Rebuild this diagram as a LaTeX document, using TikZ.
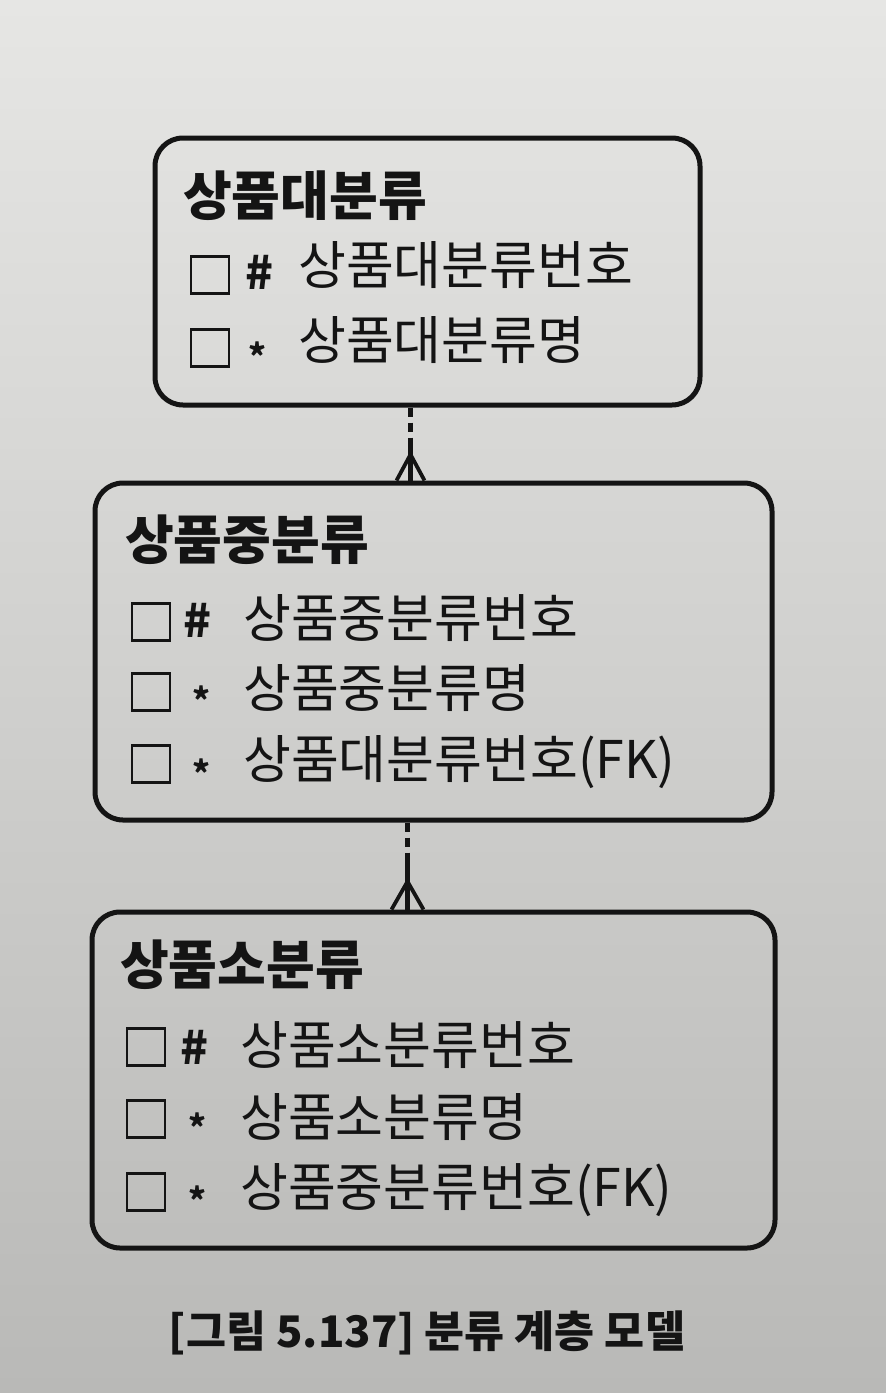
\documentclass[tikz,border=0pt]{standalone}
\usepackage{fontspec}
\setmainfont{Noto Sans CJK KR}
\usetikzlibrary{calc}
\definecolor{bgtop}{HTML}{E6E6E4}
\definecolor{bgbot}{HTML}{B9B9B7}
\definecolor{ink}{HTML}{141414}
\tikzset{
  entity/.style={draw=ink, line width=5pt, rounded corners=28pt, inner sep=0pt},
  ttl/.style={anchor=west, inner sep=0pt, text=ink, font=\fontsize{53}{60}\selectfont\bfseries},
  attr/.style={anchor=west, inner sep=0pt, text=ink, font=\fontsize{52}{60}\selectfont},
  chk/.style={draw=ink, line width=2.8pt, minimum width=38pt, minimum height=37pt, inner sep=0pt},
  hashmk/.style={inner sep=0pt, text=ink, font=\fontsize{46}{52}\selectfont\bfseries},
  starmk/.style={inner sep=0pt, text=ink, font=\fontsize{34}{40}\selectfont\bfseries},
  rel/.style={draw=ink, line width=5pt},
  reldash/.style={draw=ink, line width=5pt, dash pattern=on 9pt off 6pt},
  captext/.style={inner sep=0pt, text=ink, font=\fontsize{43.5}{50}\selectfont\bfseries}
}
\begin{document}
\begin{tikzpicture}[x=1pt,y=-1pt]
\shade[top color=bgtop, bottom color=bgbot] (0,0) rectangle (886,1393);
\useasboundingbox (0,0) rectangle (886,1393);

% entity 1
\node[entity, minimum width=545pt, minimum height=267pt] (e1) at (427.5,271.5) {};
\node[ttl] (t1) at (183,196) {상품대분류};
\node[chk] (s11) at (210,275) {};
\node[hashmk] (m11) at (260,272) {\#};
\node[attr] (a11) at (298,265) {상품대분류번호};
\node[chk] (s12) at (210,348) {};
\node[starmk] (m12) at (257,356) {*};
\node[attr] (a12) at (298,340) {상품대분류명};

% entity 2
\node[entity, minimum width=677pt, minimum height=337pt] (e2) at (433.5,651.5) {};
\node[ttl] (t2) at (125,540) {상품중분류};
\node[chk] (s21) at (151,622) {};
\node[hashmk] (m21) at (198,620) {\#};
\node[attr] (a21) at (243,618) {상품중분류번호};
\node[chk] (s22) at (151,692) {};
\node[starmk] (m22) at (201,700) {*};
\node[attr] (a22) at (243,688) {상품중분류명};
\node[chk] (s23) at (151,764) {};
\node[starmk] (m23) at (201,773) {*};
\node[attr] (a23) at (243,762) {상품대분류번호(FK)};

% entity 3
\node[entity, minimum width=683pt, minimum height=336pt] (e3) at (433.5,1080) {};
\node[ttl] (t3) at (120,965) {상품소분류};
\node[chk] (s31) at (146,1047) {};
\node[hashmk] (m31) at (195,1047) {\#};
\node[attr] (a31) at (240,1045) {상품소분류번호};
\node[chk] (s32) at (146,1119) {};
\node[starmk] (m32) at (197,1127) {*};
\node[attr] (a32) at (240,1117) {상품소분류명};
\node[chk] (s33) at (146,1192) {};
\node[starmk] (m33) at (197,1200) {*};
\node[attr] (a33) at (240,1190) {상품중분류번호(FK)};

% relationship 1
\coordinate (r1a) at ($(e1.south west)+(258,0)$);
\coordinate (r1b) at ($(r1a)+(0,31)$);
\coordinate (r1end) at (r1a |- e2.north);
\coordinate (r1apex) at ($(r1end)+(0,-26)$);
\draw[reldash] (r1a) -- (r1b);
\draw[rel] (r1b) -- (r1end);
\draw[rel, line width=3.8pt] ($(r1end)+(-14,0)$) -- (r1apex) -- ($(r1end)+(14,0)$);

% relationship 2
\coordinate (r2a) at ($(e2.south west)+(315,0)$);
\coordinate (r2b) at ($(r2a)+(0,33)$);
\coordinate (r2end) at (r2a |- e3.north);
\coordinate (r2apex) at ($(r2end)+(0,-28)$);
\draw[reldash] (r2a) -- (r2b);
\draw[rel] (r2b) -- (r2end);
\draw[rel, line width=3.8pt] ($(r2end)+(-16,0)$) -- (r2apex) -- ($(r2end)+(16,0)$);

% caption
\node[captext] (caption) at (427,1333) {[그림 5.137] 분류 계층 모델};
\end{tikzpicture}
\end{document}
